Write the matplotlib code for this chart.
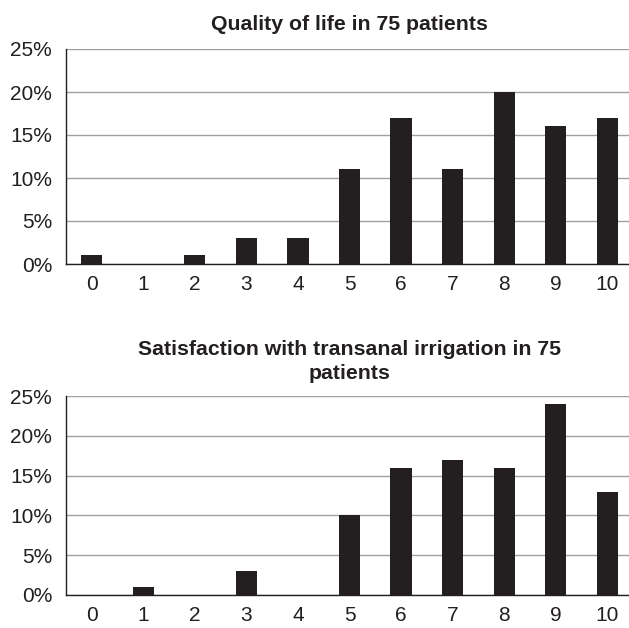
import matplotlib
matplotlib.use("Agg")
import matplotlib.pyplot as plt
from matplotlib.ticker import FuncFormatter

plt.rcParams['font.family'] = ['Liberation Sans', 'DejaVu Sans']

categories = list(range(11))
quality = [1, 0, 1, 3, 3, 11, 17, 11, 20, 16, 17]
satisfaction = [0, 1, 0, 3, 0, 10, 16, 17, 16, 24, 13]
yticks = [0, 5, 10, 15, 20, 25]
title_top = "Quality of life in 75 patients"
title_bottom = "Satisfaction with transanal irrigation in 75\npatients"

fig = plt.figure(figsize=(6.29, 6.28), dpi=100)
ax1 = fig.add_axes([66/629, 1-264/628, 567/629, 215/628])
ax2 = fig.add_axes([66/629, 1-595/628, 567/629, 199/628])

for ax, vals, title, pad in [(ax1, quality, title_top, 14), (ax2, satisfaction, title_bottom, 12)]:
    ax.bar(categories, vals, width=0.41, color='#231f20', zorder=3)
    ax.set_xlim(-0.5, 10.5)
    ax.set_ylim(0, 25)
    ax.set_yticks(yticks)
    ax.yaxis.set_major_formatter(FuncFormatter(lambda v, p: f"{int(v)}%"))
    ax.set_xticks(categories)
    ax.grid(axis='y', color='#a0a0a0', linewidth=1.0, zorder=0)
    ax.tick_params(length=0, labelsize=15, colors='#231f20')
    ax.tick_params(axis='x', pad=8)
    ax.tick_params(axis='y', pad=10)
    for s in ['top', 'right']:
        ax.spines[s].set_visible(False)
    ax.spines['left'].set_color('#231f20')
    ax.spines['bottom'].set_color('#231f20')
    ax.spines['left'].set_linewidth(1.0)
    ax.spines['bottom'].set_linewidth(1.0)
    ax.set_title(title, fontsize=15.3, fontweight='bold', color='#231f20', pad=pad,
                 linespacing=1.35)

fig.savefig("out.png", dpi=100)
